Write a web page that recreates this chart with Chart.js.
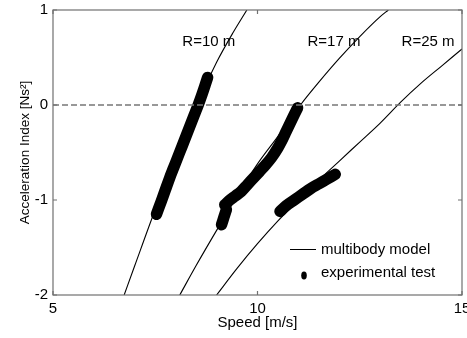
<!DOCTYPE html>
<html>
<head>
<meta charset="utf-8">
<script src="https://cdn.jsdelivr.net/npm/chart.js@4.4.0/dist/chart.umd.min.js"></script>
<style>
html, body { margin: 0; padding: 0; background: #fff; }
</style>
</head>
<body>
<canvas id="accelChart" width="467" height="338"></canvas>
<script>
// Acceleration index vs speed

// multibody model curves (speed in m/s, index in Ns^2)
const modelSpeed10 = [6.74, 7.0, 7.5, 8.0, 8.5, 9.0, 9.4, 9.74];
const modelIndex10 = [-2, -1.69, -1.1, -0.55, -0.01, 0.45, 0.76, 1.0];
const modelSpeed17 = [8.1, 8.5, 9.0, 9.5, 10.0, 10.5, 11.05, 11.5, 12.0, 12.5, 13.0, 13.2];
const modelIndex17 = [-2, -1.69, -1.32, -0.96, -0.62, -0.33, 0, 0.24, 0.49, 0.72, 0.93, 1.0];
const modelSpeed25 = [9.0, 9.5, 10.0, 10.5, 11.0, 11.5, 12.0, 12.5, 13.0, 13.5, 14.0, 14.5, 15.0];
const modelIndex25 = [-2, -1.72, -1.46, -1.22, -1.0, -0.79, -0.59, -0.39, -0.19, 0.03, 0.23, 0.41, 0.59];

// experimental test bands
const testSpeed10 = [7.53, 7.65, 7.75, 7.85, 7.95, 8.05, 8.15, 8.25, 8.35, 8.45, 8.55, 8.65, 8.72, 8.78];
const testIndex10 = [-1.15, -1.01, -0.89, -0.77, -0.66, -0.55, -0.44, -0.33, -0.22, -0.11, 0.0, 0.12, 0.21, 0.29];
const testSpeed17a = [9.12, 9.18, 9.24];
const testIndex17a = [-1.26, -1.18, -1.1];
const testSpeed17b = [9.2, 9.3, 9.45, 9.6, 9.75, 9.9, 10.05, 10.2, 10.35, 10.5, 10.6, 10.7, 10.8, 10.9, 10.98];
const testIndex17b = [-1.05, -1.01, -0.96, -0.91, -0.84, -0.77, -0.70, -0.63, -0.55, -0.45, -0.37, -0.28, -0.19, -0.10, -0.03];
const testSpeed25 = [10.55, 10.7, 10.9, 11.1, 11.3, 11.5, 11.7, 11.9];
const testIndex25 = [-1.12, -1.06, -1.0, -0.94, -0.88, -0.83, -0.78, -0.73];

// curve annotations
const curveLabels = ['R=10 m', 'R=17 m', 'R=25 m'];
const labelSpeed = [8.81, 11.87, 14.17];
const labelIndex = [0.66, 0.66, 0.66];

// axis ticks
const xTicks = [5, 10, 15];
const yTicks = [-2, -1, 0, 1];

const FONT = '"Liberation Sans", Arial, Helvetica, sans-serif';

function toPoints(xs, ys) {
    return xs.map((v, i) => ({ x: v, y: ys[i] }));
}

function modelSet(xs, ys) {
    return {
        label: 'multibody model',
        data: toPoints(xs, ys),
        showLine: true,
        borderColor: '#000',
        borderWidth: 1.1,
        pointRadius: 0,
        cubicInterpolationMode: 'monotone'
    };
}

function testSet(xs, ys) {
    return {
        label: 'experimental test',
        data: toPoints(xs, ys),
        showLine: true,
        borderColor: '#000',
        backgroundColor: '#000',
        borderWidth: 11.5,
        borderCapStyle: 'round',
        borderJoinStyle: 'round',
        pointRadius: 0,
        tension: 0.3
    };
}

/**
 * Box, inward ticks, curve labels and the in-plot legend
 */
const decorPlugin = {
    id: 'decor',
    afterDatasetsDraw(chart) {
        const { ctx, chartArea: a, scales: { x, y } } = chart;
        ctx.save();

        ctx.strokeStyle = '#707070';
        ctx.lineWidth = 1.2;
        ctx.strokeRect(a.left, a.top, a.width, a.height);

        ctx.beginPath();
        xTicks.forEach(v => {
            const px = x.getPixelForValue(v);
            ctx.moveTo(px, a.bottom); ctx.lineTo(px, a.bottom - 4);
            ctx.moveTo(px, a.top); ctx.lineTo(px, a.top + 4);
        });
        yTicks.forEach(v => {
            const py = y.getPixelForValue(v);
            ctx.moveTo(a.left, py); ctx.lineTo(a.left + 4, py);
            ctx.moveTo(a.right, py); ctx.lineTo(a.right - 4, py);
        });
        ctx.stroke();

        ctx.fillStyle = '#000';
        ctx.font = '15px ' + FONT;
        ctx.textAlign = 'center';
        ctx.textBaseline = 'middle';
        curveLabels.forEach((t, i) => {
            ctx.fillText(t, x.getPixelForValue(labelSpeed[i]), y.getPixelForValue(labelIndex[i]));
        });

        // legend (bottom right, no box)
        const lx = Math.round(a.right - 172);
        const ly = Math.round(a.bottom - 46) + 0.5;
        ctx.strokeStyle = '#000';
        ctx.lineWidth = 1;
        ctx.beginPath();
        ctx.moveTo(lx, ly); ctx.lineTo(lx + 26, ly);
        ctx.stroke();
        ctx.beginPath();
        ctx.ellipse(lx + 14, ly + 26, 2.8, 4, 0, 0, Math.PI * 2);
        ctx.fill();
        ctx.textAlign = 'left';
        ctx.fillText('multibody model', lx + 31, ly);
        ctx.fillText('experimental test', lx + 31, ly + 23);

        ctx.restore();
    }
};

Chart.defaults.font.family = FONT;
Chart.defaults.font.size = 15;
Chart.defaults.color = '#000';

new Chart(document.getElementById('accelChart'), {
    type: 'scatter',
    data: {
        datasets: [
            {
                label: 'zero',
                data: [{ x: 5, y: 0 }, { x: 15, y: 0 }],
                showLine: true,
                borderColor: '#777',
                borderWidth: 1.3,
                borderDash: [6, 3],
                pointRadius: 0
            },
            modelSet(modelSpeed10, modelIndex10),
            modelSet(modelSpeed17, modelIndex17),
            modelSet(modelSpeed25, modelIndex25),
            testSet(testSpeed10, testIndex10),
            testSet(testSpeed17a, testIndex17a),
            testSet(testSpeed17b, testIndex17b),
            testSet(testSpeed25, testIndex25)
        ]
    },
    options: {
        responsive: false,
        animation: false,
        layout: { padding: { top: 10, right: 5, left: 0, bottom: 0 } },
        plugins: {
            legend: { display: false },
            tooltip: { enabled: false }
        },
        scales: {
            x: {
                type: 'linear',
                min: 5,
                max: 15,
                afterBuildTicks: s => { s.ticks = xTicks.map(v => ({ value: v })); },
                ticks: { padding: 5, maxRotation: 0 },
                grid: { display: false, drawTicks: false },
                border: { display: false },
                title: {
                    display: true,
                    text: 'Speed [m/s]',
                    padding: { top: 0, bottom: 6 }
                },
                afterFit: s => {
                    s.height = 43;
                    s.paddingLeft = 0;
                    s.paddingRight = 0;
                }
            },
            y: {
                min: -2,
                max: 1,
                afterBuildTicks: s => { s.ticks = yTicks.map(v => ({ value: v })); },
                ticks: { padding: 5 },
                grid: { display: false, drawTicks: false },
                border: { display: false },
                title: {
                    display: true,
                    text: 'Acceleration Index [Ns²]',
                    font: { size: 13.5 },
                    padding: { top: 17, bottom: 0 }
                },
                afterFit: s => {
                    s.width = 53;
                    s.paddingTop = 0;
                    s.paddingBottom = 0;
                }
            }
        }
    },
    plugins: [decorPlugin]
});
</script>
</body>
</html>
